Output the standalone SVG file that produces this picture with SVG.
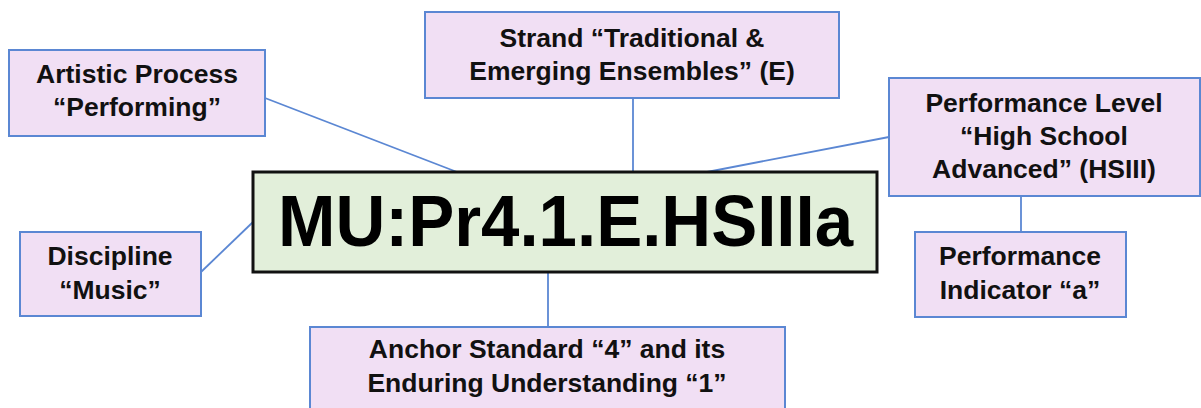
<svg xmlns="http://www.w3.org/2000/svg" width="1201" height="408" viewBox="0 0 1201 408">
<style>
.box{fill:#f1dff4;stroke:#5b87d3;stroke-width:2}
.main{fill:#e2efda;stroke:#111;stroke-width:3}
.lbl{font-family:"Liberation Sans",Arial,sans-serif;font-weight:bold;font-size:26.5px;fill:#111;text-anchor:middle}
.big{font-family:"Liberation Sans",Arial,sans-serif;font-weight:bold;font-size:73px;fill:#000;text-anchor:middle}
.conn line{stroke:#5b87d3;stroke-width:1.8}
</style>
<rect width="1201" height="408" fill="#fff"/>
<g class="conn" id="connectors">
<line x1="265" y1="98" x2="457" y2="172"/>
<line x1="633" y1="98" x2="633" y2="172"/>
<line x1="889" y1="137" x2="707" y2="172"/>
<line x1="201" y1="272" x2="253" y2="222"/>
<line x1="548" y1="272" x2="548" y2="327"/>
<line x1="1021" y1="196" x2="1021" y2="232"/>
</g>
<g id="artistic">
<rect class="box" x="9" y="50" width="256" height="86"/>
<text class="lbl" x="137" y="83">Artistic Process</text>
<text class="lbl" x="137" y="116">“Performing”</text>
</g>
<g id="strand">
<rect class="box" x="425" y="12" width="414" height="86"/>
<text class="lbl" x="632" y="47">Strand “Traditional &amp;</text>
<text class="lbl" x="632" y="80">Emerging Ensembles” (E)</text>
</g>
<g id="level">
<rect class="box" x="889" y="78" width="311" height="118"/>
<text class="lbl" x="1044" y="112">Performance Level</text>
<text class="lbl" x="1044" y="145">“High School</text>
<text class="lbl" x="1044" y="178">Advanced” (HSIII)</text>
</g>
<g id="indicator">
<rect class="box" x="915" y="232" width="211" height="85"/>
<text class="lbl" x="1020" y="265">Performance</text>
<text class="lbl" x="1020" y="299">Indicator “a”</text>
</g>
<g id="discipline">
<rect class="box" x="20" y="232" width="181" height="84"/>
<text class="lbl" x="110" y="265">Discipline</text>
<text class="lbl" x="110" y="299">“Music”</text>
</g>
<g id="anchor">
<rect class="box" x="310" y="327" width="475" height="90"/>
<text class="lbl" x="547" y="358">Anchor Standard “4” and its</text>
<text class="lbl" x="547" y="392">Enduring Understanding “1”</text>
</g>
<g id="code">
<rect class="main" x="253" y="172" width="624" height="100"/>
<text class="big" x="565.5" y="246" textLength="575" lengthAdjust="spacingAndGlyphs">MU:Pr4.1.E.HSIIIa</text>
</g>
</svg>
